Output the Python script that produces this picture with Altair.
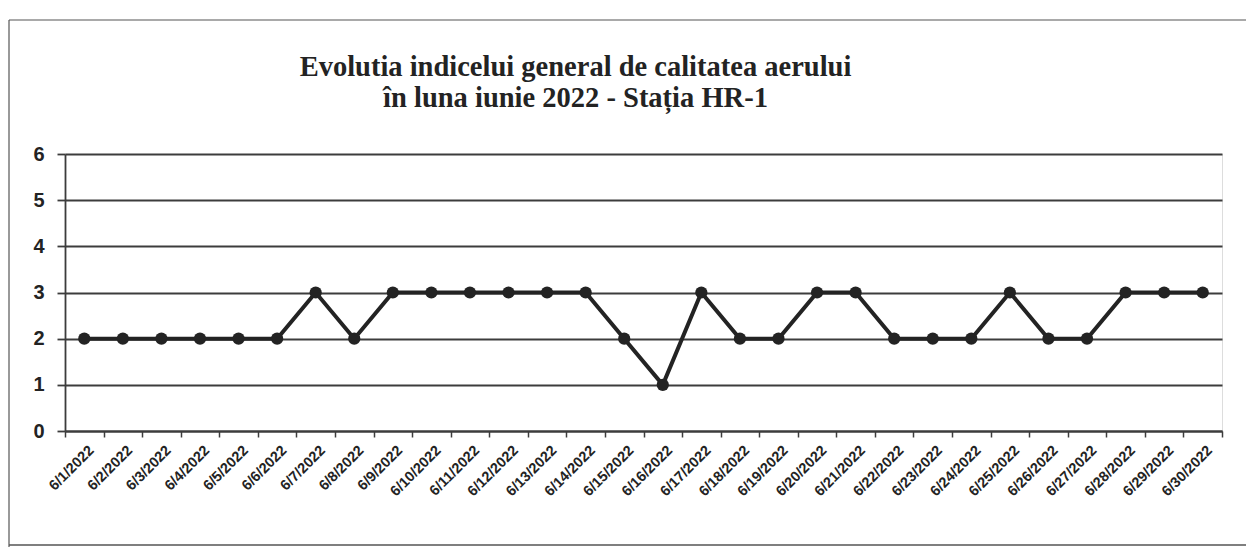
import altair as alt
import pandas as pd

dates = [f"6/{d}/2022" for d in range(1, 31)]
values = [2, 2, 2, 2, 2, 2, 3, 2, 3, 3, 3, 3, 3, 3, 2, 1, 3, 2, 2, 3, 3, 2, 2, 2, 3, 2, 2, 3, 3, 3]
y_ticks = [0, 1, 2, 3, 4, 5, 6]
title_lines = ["Evolutia indicelui  general de calitatea aerului", "în luna iunie 2022 - Stația HR-1"]

df = pd.DataFrame({"date": dates, "value": values})

W, H = 1157, 277
ink = "#232323"
grid = "#3c3c3c"

x_enc = alt.X(
    "date:N",
    sort=dates,
    scale=alt.Scale(type="band", paddingInner=0, paddingOuter=0),
    axis=alt.Axis(
        title=None,
        labelAngle=-45,
        labelAlign="right",
        labelBaseline="middle",
        labelPadding=11,
        labelOffset=7,
        labelFont="Liberation Sans",
        labelFontWeight="bold",
        labelFontSize=14.5,
        labelColor=ink,
        tickBand="extent",
        ticks=True,
        tickSize=6,
        tickColor=grid,
        tickWidth=1.5,
        domainColor=grid,
        domainWidth=1.8,
        grid=False,
        labelOverlap=False,
    ),
)
y_enc = alt.Y(
    "value:Q",
    scale=alt.Scale(domain=[0, 6], nice=False, zero=True),
    axis=alt.Axis(
        title=None,
        values=y_ticks,
        labelFont="Liberation Sans",
        labelFontWeight="bold",
        labelFontSize=20,
        labelColor=ink,
        labelPadding=13,
        tickSize=8,
        tickColor=grid,
        tickWidth=1.8,
        domainColor=grid,
        domainWidth=1.8,
        grid=True,
        gridColor=grid,
        gridWidth=1.8,
    ),
)

base = alt.Chart(df).encode(x=x_enc, y=y_enc)
line = base.mark_line(color=ink, strokeWidth=4)
pts = base.mark_circle(color=ink, size=150, opacity=1)

frame_df = pd.DataFrame({"a": [0]})
fr = alt.Chart(frame_df)
left_edge = fr.mark_rule(color="#555555", strokeWidth=1.2).encode(
    x=alt.value(-56), y=alt.value(-134), y2=alt.value(H + 116)
)
top_edge = fr.mark_rule(color="#555555", strokeWidth=1.2).encode(
    x=alt.value(-56), x2=alt.value(W + 24), y=alt.value(-134)
)
bottom_edge = fr.mark_rule(color="#555555", strokeWidth=1.5).encode(
    x=alt.value(-56), x2=alt.value(W + 24), y=alt.value(H + 114)
)

chart = (
    alt.layer(line, pts, left_edge, top_edge, bottom_edge)
    .properties(
        width=W,
        height=H,
        padding={"left": 57, "top": 146, "right": 24, "bottom": 116},
        autosize=alt.AutoSizeParams(type="none"),
        title=alt.TitleParams(
            text=title_lines,
            font="Liberation Serif",
            fontSize=28.5,
            fontWeight="bold",
            color=ink,
            anchor="middle",
            frame="group",
            baseline="bottom",
            dx=-68,
            offset=-122,
            lineHeight=31,
        ),
    )
    .configure_view(fill="#f3f3f3", stroke=None)
    .configure(background="white")
)

chart.save("out.html", embed_options={"renderer": "svg", "actions": False})
